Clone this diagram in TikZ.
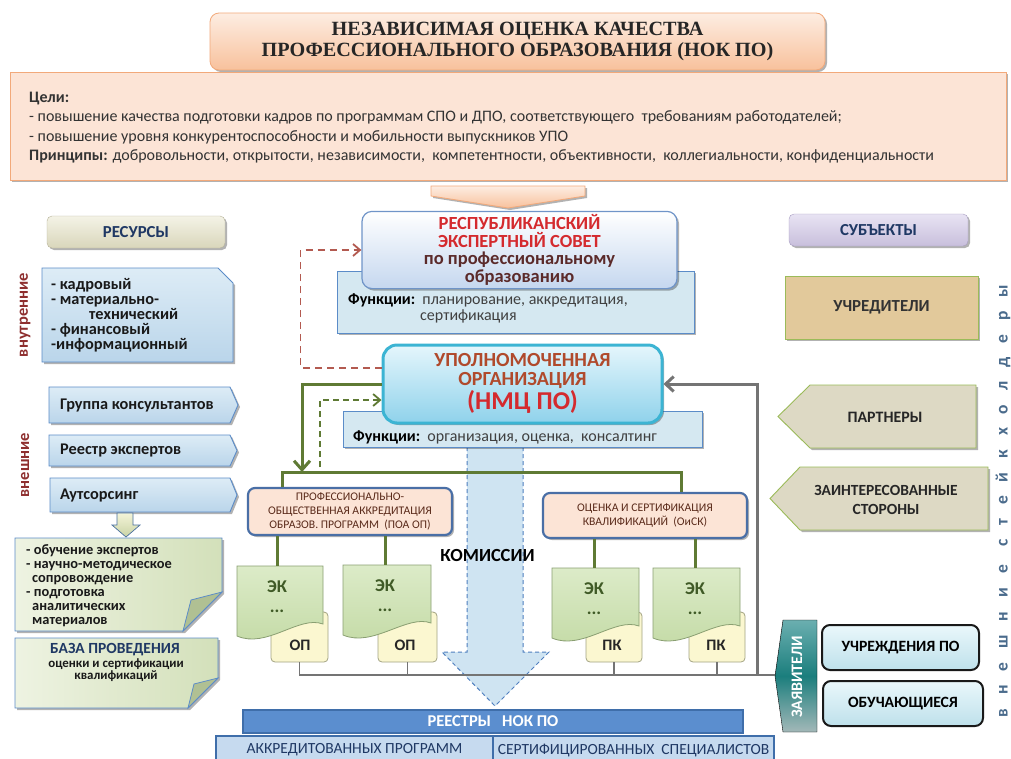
\documentclass[tikz,border=0pt]{standalone}
\usepackage{fontspec}
\setmainfont{Carlito}
\newfontfamily\titlefont{Liberation Serif}
\newfontfamily\spacedfont[LetterSpace=80]{Carlito}
\usetikzlibrary{arrows.meta,shadows}

\definecolor{peach}{HTML}{FCE4D6}
\definecolor{peachedge}{HTML}{F2A97A}
\definecolor{peachtop}{HTML}{FDEDE2}
\definecolor{peachbot}{HTML}{F8C19C}
\definecolor{navy}{HTML}{1F3864}
\definecolor{blueA}{HTML}{DDECF6}
\definecolor{blueB}{HTML}{BAD5EA}
\definecolor{edgeblue}{HTML}{5B8CC8}
\definecolor{darkred}{HTML}{8E2F2F}
\definecolor{noteA}{HTML}{EEF3E2}
\definecolor{noteB}{HTML}{D3E0BA}
\definecolor{foldgreen}{HTML}{B0C093}
\definecolor{boxblue}{HTML}{D5E8F1}
\definecolor{resB}{HTML}{C5D7EF}
\definecolor{resedge}{HTML}{6F94C8}
\definecolor{redtext}{HTML}{D42A2E}
\definecolor{maroon}{HTML}{5B2A2A}
\definecolor{uoA}{HTML}{E5F6FC}
\definecolor{uoB}{HTML}{8FD2EB}
\definecolor{cyanedge}{HTML}{3CB4D3}
\definecolor{rusttext}{HTML}{B04A2C}
\definecolor{branchedge}{HTML}{4A6FA6}
\definecolor{branchtext}{HTML}{5A2A1A}
\definecolor{ekA}{HTML}{DCEBC8}
\definecolor{ekB}{HTML}{C3DAA5}
\definecolor{ekedge}{HTML}{8A9F72}
\definecolor{ekgreen}{HTML}{3F5A26}
\definecolor{yelfill}{HTML}{FBF7D0}
\definecolor{yeledge}{HTML}{A3A383}
\definecolor{olive}{HTML}{5F7A34}
\definecolor{brick}{HTML}{B35A50}
\definecolor{greyln}{HTML}{747474}
\definecolor{subjfill}{HTML}{DDD9C4}
\definecolor{subjedge}{HTML}{9BBB59}
\definecolor{founders}{HTML}{E2C99B}
\definecolor{tealA}{HTML}{6BAFB0}
\definecolor{tealB}{HTML}{1B7E7D}
\definecolor{tealC}{HTML}{A3B8B8}
\definecolor{appA}{HTML}{EAF7FB}
\definecolor{appB}{HTML}{BEE1EB}
\definecolor{regblue}{HTML}{5B8ECF}
\definecolor{regedge}{HTML}{3F6EAA}
\definecolor{regfill}{HTML}{C6DAEF}
\definecolor{stake}{HTML}{4A6B8C}
\definecolor{arrowfill}{HTML}{CFE4F2}
\definecolor{arrowedge}{HTML}{4F7FBF}
\definecolor{smallA}{HTML}{F4F4D8}
\definecolor{smallB}{HTML}{C9D3A5}
\definecolor{lavA}{HTML}{E8E3F3}
\definecolor{lavB}{HTML}{C8BFDC}
\definecolor{lavedge}{HTML}{A89EC2}
\definecolor{beigeA}{HTML}{F4F3E6}
\definecolor{beigeB}{HTML}{D9D6BB}
\definecolor{beigeedge}{HTML}{B7B39A}

\tikzset{
  shadowed/.style={drop shadow={shadow xshift=2pt,shadow yshift=-2pt,opacity=0.3,fill=black}},
  titlebox/.style={shadowed,rounded corners=9pt,draw=peachedge,line width=0.8pt,
    top color=peachtop,bottom color=peachbot,minimum width=615pt,minimum height=57pt,
    align=center,text=black!85,font=\titlefont\bfseries\fontsize{20.2}{21.5}\selectfont},
  goaltext/.style={anchor=base west,inner sep=0pt,text=black!80,font=\fontsize{16}{17}\selectfont},
  headbox/.style={shadowed,rounded corners=5pt,minimum width=178pt,minimum height=32pt,
    text=navy,font=\bfseries\fontsize{16.8}{17}\selectfont},
  resshape/.style={shadowed,draw=edgeblue,line width=0.9pt,top color=blueA,bottom color=blueB},
  restext/.style={anchor=west,inner sep=0pt,text=black!90,font=\bfseries\fontsize{16.3}{15}\selectfont},
  sidelabel/.style={rotate=90,text=darkred,font=\bfseries\fontsize{16.5}{17}\selectfont},
  notebox/.style={shadowed,draw=edgeblue,line width=0.8pt,left color=noteA,right color=noteB},
  fold/.style={draw=edgeblue,line width=0.8pt,fill=foldgreen},
  funbox/.style={shadowed,draw=edgeblue,line width=1pt,fill=boxblue},
  funtext/.style={anchor=west,inner sep=0pt,text=black!75,font=\fontsize{16}{16}\selectfont},
  branchbox/.style={shadowed,rounded corners=7pt,draw=branchedge,line width=2.2pt,fill=peach,
    minimum width=204pt,align=center,text=branchtext,font=\fontsize{11.7}{14}\selectfont},
  ekdoc/.style={draw=ekedge,line width=0.8pt,top color=ekA,bottom color=ekB},
  ektext/.style={align=center,text=ekgreen,font=\bfseries\fontsize{18}{20}\selectfont},
  yelbox/.style={rounded corners=4pt,draw=yeledge,line width=0.8pt,fill=yelfill,minimum height=50pt},
  yeltext/.style={text=black!85,font=\bfseries\fontsize{16}{16}\selectfont},
  greenline/.style={draw=olive,line width=3pt},
  greendash/.style={draw=olive,line width=1.8pt,dash pattern=on 6pt off 4pt},
  reddash/.style={draw=brick,line width=1.8pt,dash pattern=on 7pt off 5pt},
  greyline/.style={draw=greyln,line width=3pt},
  greybus/.style={draw=greyln,line width=1.5pt},
  subjshape/.style={shadowed,draw=subjedge,line width=0.9pt,fill=subjfill},
  subjtext/.style={align=center,text=black!85,font=\bfseries\fontsize{15.5}{19}\selectfont},
  appbox/.style={rounded corners=8pt,draw=black!90,line width=2pt,top color=appA,bottom color=appB,
    minimum height=45pt,font=\bfseries\fontsize{15.7}{16}\selectfont},
  regbox/.style={draw=regedge,line width=1.5pt,fill=regfill,minimum height=28pt,
    text=navy,font=\fontsize{15.5}{16}\selectfont},
  barb/.style={-{Straight Barb[length=7pt,width=12pt]}},
}

\begin{document}
\begin{tikzpicture}[x=1pt,y=-1pt]
  \useasboundingbox[fill=white] (0,0) rectangle (1011,758);

  % commissions arrow (behind everything)
  \draw [fill=arrowfill,draw=arrowedge,line width=1pt,dash pattern=on 4pt off 3pt]
    (467,447) -- (523,447) -- (523,652) -- (549,652) -- (495,706) -- (442,652) -- (467,652) -- cycle;

  % title and goals
  \node[titlebox] (title) at (517.5,41.5) {НЕЗАВИСИМАЯ ОЦЕНКА КАЧЕСТВА\\ПРОФЕССИОНАЛЬНОГО ОБРАЗОВАНИЯ (НОК ПО)};
  \node[shadowed,draw=peachedge,fill=peach,line width=0.8pt,minimum width=996pt,minimum height=108pt] (goals) at (508,126) {};
  \node[goaltext] (goalhead) at (29,102) {\textbf{Цели:}};
  \node[goaltext] (goal1) at (29,121) {- повышение качества подготовки кадров по программам СПО и ДПО, соответствующего\ \ требованиям работодателей;};
  \node[goaltext] (goal2) at (29,141) {- повышение уровня конкурентоспособности и мобильности выпускников УПО};
  \node[goaltext] (princ) at (29,160) {\textbf{Принципы:} добровольности, открытости, независимости,\ \ компетентности, объективности,\ \ коллегиальности, конфиденциальности};
  \draw [shadowed,draw=peachedge,line width=0.8pt,top color=peachtop,bottom color=peachbot]
    (431,186) -- (585,186) -- (585,196) -- (508,208) -- (431,196) -- cycle;

  % column heads
  \node[headbox,draw=beigeedge,top color=beigeA,bottom color=beigeB] (resources) at (136,232) {РЕСУРСЫ};
  \node[headbox,draw=lavedge,top color=lavA,bottom color=lavB,minimum width=179pt] (subjects) at (878.5,230) {СУБЪЕКТЫ};

  % internal resources
  \draw [resshape] (42,268) -- (218,268) -- (233,283) -- (233,362) -- (42,362) -- cycle;
  \node[restext,anchor=north west,align=left] (intres) at (51,278)
    {- кадровый\\- материально-\\\hspace*{38pt}технический\\- финансовый\\-информационный};
  \node[sidelabel] (lblint) at (25,315) {внутренние};

  % external resources
  \draw [resshape] (49,387) -- (230,387) -- (238,405) -- (230,423) -- (49,423) -- cycle;
  \node[restext] (consult) at (60,405) {Группа консультантов};
  \draw [resshape] (49,435) -- (230,435) -- (237,450.5) -- (230,466) -- (49,466) -- cycle;
  \node[restext] (experts) at (60,450.5) {Реестр экспертов};
  \draw [resshape] (50,478) -- (230,478) -- (237,495) -- (230,512) -- (50,512) -- cycle;
  \node[restext] (outsrc) at (60,495) {Аутсорсинг};
  \node[sidelabel] (lblext) at (25,465) {внешние};

  \draw [draw=edgeblue!80!black,line width=0.7pt,top color=smallA,bottom color=smallB]
    (117,513) -- (133,513) -- (133,525) -- (140,525) -- (126,537) -- (112,525) -- (117,525) -- cycle;

  % notes
  \draw [notebox] (15,538) -- (222,538) -- (222,592) -- (183,631) -- (15,631) -- cycle;
  \draw [fold] (222,592) -- (183,631) -- (191,600) -- cycle;
  \node[anchor=north west,inner sep=0pt,align=left,text=black!90,font=\bfseries\fontsize{14.4}{14}\selectfont] (services) at (26,544)
    {- обучение экспертов\\- научно-методическое\\\hspace*{6pt}сопровождение\\- подготовка\\\hspace*{6pt}аналитических\\\hspace*{6pt}материалов};
  \draw [notebox] (15,638) -- (218,638) -- (218,678) -- (188,708) -- (15,708) -- cycle;
  \draw [fold] (218,678) -- (188,708) -- (194,684) -- cycle;
  \node[text=navy,font=\bfseries\fontsize{15.5}{16}\selectfont] (basetitle) at (115,650) {БАЗА ПРОВЕДЕНИЯ};
  \node[align=center,text=black!90,font=\bfseries\fontsize{12.9}{12.5}\selectfont] (basetext) at (116,670) {оценки и сертификации\\квалификаций};

  % expert council
  \node[funbox,minimum width=357pt,minimum height=62pt] (resfun) at (515.5,302) {};
  \node[funtext] (resfunA) at (348,300) {\textbf{\color{black}Функции:}\ \ планирование, аккредитация,};
  \node[funtext] (resfunB) at (420,316) {сертификация};
  \node[shadowed,rounded corners=10pt,draw=resedge,line width=1.2pt,top color=white,bottom color=resB,
    minimum width=315pt,minimum height=74pt,align=center,font=\bfseries\fontsize{18.5}{17.5}\selectfont] (res) at (519.5,250)
    {\textcolor{redtext}{РЕСПУБЛИКАНСКИЙ}\\\textcolor{redtext}{ЭКСПЕРТНЫЙ СОВЕТ}\\\textcolor{maroon}{по профессиональному}\\\textcolor{maroon}{образованию}};

  % authorised organisation
  \node[funbox,minimum width=359pt,minimum height=36pt] (uofun) at (522.5,429) {};
  \node[funtext] (uofunA) at (353,437) {\textbf{\color{black}Функции:}\ \ организация, оценка,\ \ консалтинг};
  \node[shadowed,rounded corners=14pt,draw=cyanedge,line width=3pt,top color=uoA,bottom color=uoB,
    minimum width=279pt,minimum height=78pt] (uo) at (522.5,384) {};
  \node[align=center,text=rusttext,font=\bfseries\fontsize{20}{19}\selectfont] (uoname) at (522.5,370.5) {УПОЛНОМОЧЕННАЯ\\ОРГАНИЗАЦИЯ};
  \node[text=redtext,font=\bfseries\fontsize{25.7}{26}\selectfont] (uoabbr) at (522.5,402) {(НМЦ ПО)};

  % links to the organisation
  \coordinate (busA) at (302,472);
  \coordinate (busL) at (282,472);
  \coordinate (busR) at (681,472);
  \coordinate (dashfoot) at (320,467);
  \coordinate (greycorner) at (757,675);
  \draw [reddash,barb] ([yshift=16pt]uo.west) -- ++(-81,0) |- (res.west);
  \draw [greendash,barb] (dashfoot) |- ([yshift=-16pt]uo.west);
  \draw [greenline,-{Straight Barb[length=9pt,width=16pt]}] (uo.west) -| (busA);
  \draw [greyline,-{Straight Barb[length=8pt,width=15pt]}] (greycorner) |- (uo.east);

  % branches
  \node[branchbox,minimum height=47pt] (poa) at (350,511.5) {ПРОФЕССИОНАЛЬНО-\\ОБЩЕСТВЕННАЯ АККРЕДИТАЦИЯ\\ОБРАЗОВ. ПРОГРАММ\ \ (ПОА ОП)};
  \node[branchbox,minimum height=45pt] (oisk) at (645,515.5) {ОЦЕНКА И СЕРТИФИКАЦИЯ\\КВАЛИФИКАЦИЙ\ \ (ОиСК)};
  \draw [greenline] (poa.north -| busL) -- (busL) -- (busR) -- (oisk.north -| busR);

  % expert commissions
  \node[yelbox,minimum width=57pt] (yel1) at (299.5,637) {};
  \node[yelbox,minimum width=59pt] (yel2) at (407.5,637) {};
  \node[yelbox,minimum width=56pt] (yel3) at (614,637) {};
  \node[yelbox,minimum width=56pt] (yel4) at (717,637) {};
  \foreach \l/\r/\t in {237/323/566, 343/431/565, 552/639/568, 653/740/568}
    \draw [ekdoc] (\l,\t) -- (\r,\t) -- (\r,\t+58) .. controls (\r-24,\t+49) and (\l+30,\t+83) .. (\l,\t+70) -- cycle;
  \node[ektext] (ek1) at (277,597) {ЭК\\...};
  \node[ektext] (ek2) at (385,596) {ЭК\\...};
  \node[ektext] (ek3) at (594,599) {ЭК\\...};
  \node[ektext] (ek4) at (695,599) {ЭК\\...};
  \node[yeltext] (op1) at (300,645) {ОП};
  \node[yeltext] (op2) at (405,645) {ОП};
  \node[yeltext] (pk1) at (612,645) {ПК};
  \node[yeltext] (pk2) at (716,645) {ПК};
  \draw [greenline] (poa.south -| ek1) -- (ek1 |- 0,566);
  \draw [greenline] (poa.south -| ek2) -- (ek2 |- 0,565);
  \draw [greenline] (oisk.south -| ek3) -- (ek3 |- 0,568);
  \draw [greenline] (oisk.south -| ek4) -- (ek4 |- 0,568);

  \node[font=\bfseries\fontsize{18.5}{19}\selectfont] (komis) at (487.5,555) {КОМИССИИ};

  % applicants
  \draw [top color=tealA,bottom color=tealC,middle color=tealB]
    (783,620) -- (817,620) -- (817,732) -- (783,732) -- (775,676) -- cycle;
  \coordinate (zaytip) at (775,675);
  \node[rotate=90,text=white,font=\bfseries\fontsize{16}{16}\selectfont] (zayav) at (797,677) {ЗАЯВИТЕЛИ};
  \draw [greybus] (yel1.south) |- (zaytip);
  \foreach \n in {yel2,yel3,yel4}
    \draw [greybus] (\n.south) -- (\n.south |- zaytip);
  \node[appbox,minimum width=157pt] (inst) at (900.5,647.5) {УЧРЕЖДЕНИЯ ПО};
  \node[appbox,minimum width=160pt] (learners) at (903,703.5) {ОБУЧАЮЩИЕСЯ};

  % registers
  \node[draw=regedge,line width=1.5pt,fill=regblue,minimum width=500pt,minimum height=23pt,
    text=white,font=\bfseries\fontsize{16.5}{17}\selectfont] (reg) at (493,721.5) {РЕЕСТРЫ\ \ \ НОК ПО};
  \node[regbox,minimum width=277pt] (regprog) at (354.5,750) {АККРЕДИТОВАННЫХ ПРОГРАММ};
  \node[regbox,minimum width=281pt] (regspec) at (633.5,750) {СЕРТИФИЦИРОВАННЫХ\ \ СПЕЦИАЛИСТОВ};

  % subjects
  \node[shadowed,draw=subjedge,line width=0.9pt,fill=founders,minimum width=193pt,minimum height=63pt,
    text=black!80,font=\bfseries\fontsize{16.9}{17}\selectfont] (founder) at (881.5,307.5) {УЧРЕДИТЕЛИ};
  \draw [subjshape] (810,385) -- (976,385) -- (976,448) -- (810,448) -- (778,416.5) -- cycle;
  \node[subjtext,font=\bfseries\fontsize{15.9}{19}\selectfont] (partners) at (885,417) {ПАРТНЕРЫ};
  \draw [subjshape] (800,467) -- (988,467) -- (988,530) -- (800,530) -- (770,498.5) -- cycle;
  \node[subjtext] (interest) at (886,499.5) {ЗАИНТЕРЕСОВАННЫЕ\\СТОРОНЫ};
  \node[rotate=90,text=stake,font=\spacedfont\bfseries\fontsize{17.5}{18}\selectfont] (stakeh) at (1003,501) {внешние стейкхолдеры};
\end{tikzpicture}
\end{document}
